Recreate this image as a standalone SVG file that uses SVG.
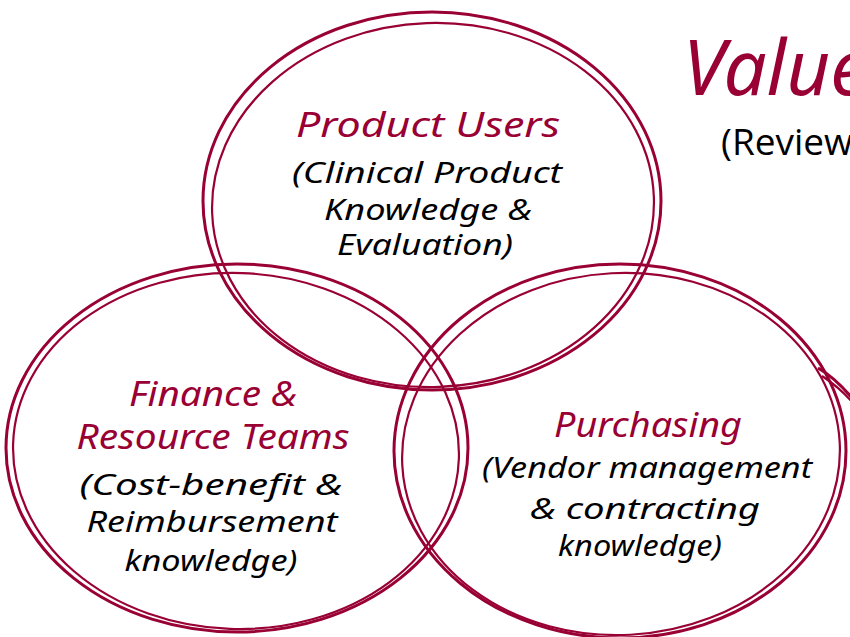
<svg xmlns="http://www.w3.org/2000/svg" width="850" height="637" viewBox="0 0 850 637">
<style>
.ring{fill:none;stroke:#990033;stroke-width:3}
.ring2{fill:none;stroke:#990033;stroke-width:2.2}
.head{font-family:"Noto Sans","Liberation Sans",sans-serif;font-style:italic;font-size:35px;fill:#990033;text-anchor:middle}
.body{font-family:"Noto Sans","Liberation Sans",sans-serif;font-style:italic;font-size:29px;fill:#000;text-anchor:middle}
</style>
<rect width="850" height="637" fill="#fff"/>
<g id="title">
<text x="683" y="95" font-family="Noto Sans, Liberation Sans, sans-serif" font-style="italic" font-size="76" fill="#990033">Value</text>
<text x="721" y="155" font-family="Open Sans, Liberation Sans, sans-serif" font-size="37" fill="#000">(Review</text>
</g>
<g id="extra-ring">
<path class="ring" d="M818,368 C832,376 842,386 852,398"/>
<path class="ring2" d="M822,376 C834,384 842,390 852,402"/>
</g>
<g id="product-users">
<ellipse class="ring" cx="432" cy="201" rx="229" ry="189"/>
<ellipse class="ring2" cx="433" cy="205" rx="221" ry="182" transform="rotate(-2 433 205)"/>
<text class="head" x="428" y="137" textLength="264" lengthAdjust="spacingAndGlyphs">Product Users</text>
<text class="body" x="427" y="183" textLength="270" lengthAdjust="spacingAndGlyphs">(Clinical Product</text>
<text class="body" x="428" y="220" textLength="208" lengthAdjust="spacingAndGlyphs">Knowledge &amp;</text>
<text class="body" x="425" y="255" textLength="176" lengthAdjust="spacingAndGlyphs">Evaluation)</text>
</g>
<g id="finance">
<ellipse class="ring" cx="237" cy="448" rx="231" ry="184"/>
<ellipse class="ring2" cx="236" cy="451" rx="223" ry="178" transform="rotate(2 236 451)"/>
<text class="head" x="213" y="406" textLength="168" lengthAdjust="spacingAndGlyphs">Finance &amp;</text>
<text class="head" x="213" y="449" textLength="273" lengthAdjust="spacingAndGlyphs">Resource Teams</text>
<text class="body" x="211" y="495" textLength="263" lengthAdjust="spacingAndGlyphs">(Cost-benefit &amp;</text>
<text class="body" x="212" y="532" textLength="251" lengthAdjust="spacingAndGlyphs">Reimbursement</text>
<text class="body" x="211" y="571" textLength="173" lengthAdjust="spacingAndGlyphs">knowledge)</text>
</g>
<g id="purchasing">
<ellipse class="ring" cx="620" cy="451" rx="226" ry="187"/>
<ellipse class="ring2" cx="621" cy="454" rx="219" ry="181" transform="rotate(-3 621 454)"/>
<text class="head" x="648" y="437" textLength="188" lengthAdjust="spacingAndGlyphs">Purchasing</text>
<text class="body" x="647" y="478" textLength="330" lengthAdjust="spacingAndGlyphs">(Vendor management</text>
<text class="body" x="645" y="519" textLength="230" lengthAdjust="spacingAndGlyphs">&amp; contracting</text>
<text class="body" x="640" y="556" textLength="164" lengthAdjust="spacingAndGlyphs">knowledge)</text>
</g>
</svg>
